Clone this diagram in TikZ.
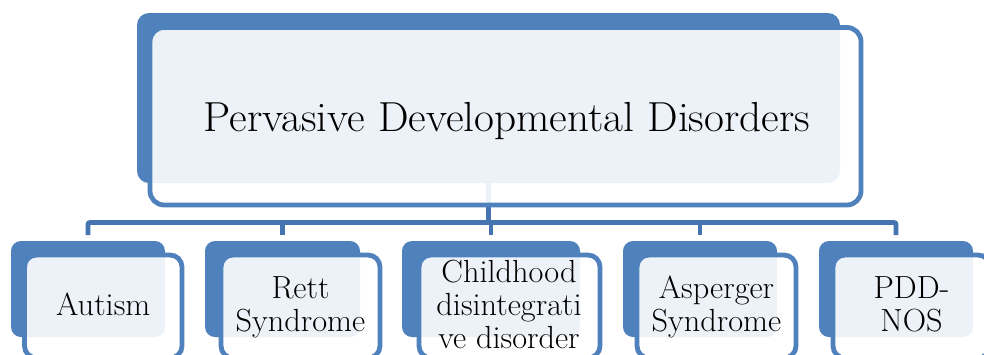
\documentclass[tikz,border=0pt]{standalone}
\usepackage{graphicx}
\definecolor{pblue}{HTML}{4F81BD}
\definecolor{cblue}{HTML}{4674B0}
\newcommand{\sqz}[1]{\scalebox{1.01}[1]{#1}}
\newcommand{\sqt}[1]{\scalebox{1.03}[1]{#1}}
\tikzset{
  backbox/.style={rectangle, fill=pblue, draw=none, inner sep=0pt, outer sep=0pt, rounded corners=12pt},
  frontbox/.style={rectangle, fill=white, fill opacity=0.9, draw=pblue, draw opacity=1, line width=4.8pt, inner sep=0pt, outer sep=0pt, rounded corners=14pt},
  conn/.style={draw=cblue, line width=4.8pt},
  ttl/.style={inner sep=0pt, anchor=base, font=\fontsize{42}{48}\selectfont},
  lbl/.style={inner sep=0pt, anchor=base, font=\fontsize{32}{34}\selectfont}
}
\begin{document}
\begin{tikzpicture}[x=1pt,y=-1pt]
\useasboundingbox (0,0) rectangle (984,354);
\clip (0,0) rectangle (984,354);
\fill[white] (0,0) rectangle (984,354);
% back boxes
\node[backbox, minimum width=703pt, minimum height=170pt] (topb) at (488.5,98) {};
\node[backbox, minimum width=154pt, minimum height=96pt, rounded corners=10pt] (autb) at (88,289) {};
\node[backbox, minimum width=155pt, minimum height=96pt, rounded corners=10pt] (rettb) at (282.5,289) {};
\node[backbox, minimum width=178pt, minimum height=96pt, rounded corners=10pt] (chldb) at (491,289) {};
\node[backbox, minimum width=154pt, minimum height=96pt, rounded corners=10pt] (aspb) at (700,289) {};
\node[backbox, minimum width=154pt, minimum height=96pt, rounded corners=10pt] (pddb) at (896,289) {};
% connectors
\coordinate (bus) at (490,222.5);
\draw[conn] (topb.south) -- (topb.south |- bus);
\draw[conn, rounded corners=2pt] ([yshift=6pt]autb.north) |- (bus) -| ([yshift=6pt]pddb.north);
\draw[conn] ([yshift=6pt]rettb.north) -- (rettb.north |- bus);
\draw[conn] ([yshift=6pt]chldb.north) -- (chldb.north |- bus);
\draw[conn] ([yshift=6pt]aspb.north) -- (aspb.north |- bus);
% front boxes
\node[frontbox, minimum width=711pt, minimum height=177.5pt] (topf) at (505.5,116.25) {};
\node[frontbox, minimum width=157.5pt, minimum height=103pt, rounded corners=12pt] (autf) at (103.25,306.5) {};
\node[frontbox, minimum width=159pt, minimum height=103pt, rounded corners=12pt] (rettf) at (300.5,306.5) {};
\node[frontbox, minimum width=181pt, minimum height=103pt, rounded corners=12pt] (chldf) at (509.5,306.5) {};
\node[frontbox, minimum width=159pt, minimum height=103pt, rounded corners=12pt] (aspf) at (716.5,306.5) {};
\node[frontbox, minimum width=157pt, minimum height=103pt, rounded corners=12pt] (pddf) at (911.5,306.5) {};
% texts
\node[ttl] (title) at (507,131) {\sqt{Pervasive Developmental Disorders}};
\node[lbl] (t-aut) at (103.25,315) {\sqz{Autism}};
\node[lbl] (t-rett1) at (300.5,298) {\sqz{Rett}};
\node[lbl] (t-rett2) at (300.5,331) {\sqz{Syndrome}};
\node[lbl] (t-ch1) at (509,282) {\sqz{Childhood}};
\node[lbl] (t-ch2) at (509,315) {\sqz{disintegrati}};
\node[lbl] (t-ch3) at (509,348) {\sqz{ve disorder}};
\node[lbl] (t-asp1) at (716.5,298) {\sqz{Asperger}};
\node[lbl] (t-asp2) at (716.5,331) {\sqz{Syndrome}};
\node[lbl] (t-pdd1) at (911.5,298) {\sqz{PDD-}};
\node[lbl] (t-pdd2) at (911.5,331) {\sqz{NOS}};
\end{tikzpicture}
\end{document}
